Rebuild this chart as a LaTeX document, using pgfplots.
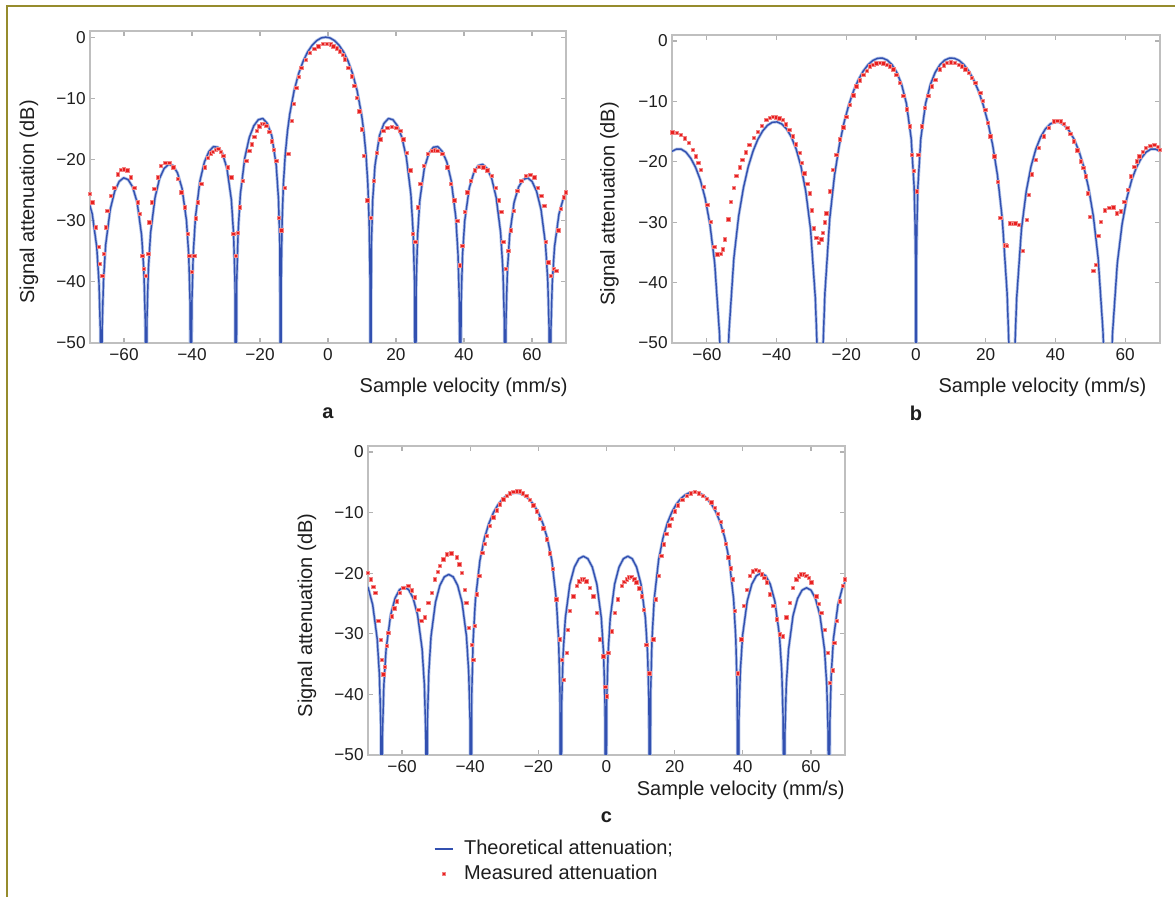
\documentclass[border=0pt]{standalone}
\usepackage{fontspec}
\setmainfont{Liberation Sans}
\usepackage{pgfplots}
\usepackage{pgfplotstable}
\pgfplotsset{compat=1.18}

\definecolor{thblue}{RGB}{50,80,176}
\definecolor{thhalo}{RGB}{176,194,232}
\definecolor{mered}{RGB}{232,32,32}
\definecolor{mehalo}{RGB}{242,130,130}
\definecolor{framecol}{RGB}{150,140,45}
\definecolor{txt}{RGB}{30,30,30}

% ---- panel a: theory and measured
\pgfplotstableread{
x y
-70.66 -26.3
-69.34 -28.9
-68.02 -34.3
-67.36 -40.1
-66.96 -48.0
-66.70 -80
-66.44 -47.9
-66.04 -39.9
-65.38 -33.9
-64.06 -28.2
-62.74 -25.2
-61.42 -23.6
-60.10 -23.0
-58.78 -23.3
-57.46 -24.5
-56.14 -27.0
-54.82 -32.4
-54.16 -38.2
-53.76 -46.1
-53.50 -80
-53.24 -46.0
-52.84 -38.0
-52.18 -32.0
-50.86 -26.2
-49.54 -23.1
-48.22 -21.5
-46.90 -20.8
-45.58 -21.0
-44.26 -22.2
-42.94 -24.7
-41.62 -30.0
-40.96 -35.7
-40.56 -43.6
-40.30 -80
-40.04 -43.5
-39.64 -35.5
-38.98 -29.4
-37.66 -23.5
-36.34 -20.4
-35.02 -18.7
-33.70 -17.9
-32.38 -18.0
-31.06 -19.0
-29.74 -21.4
-28.42 -26.6
-27.76 -32.3
-27.36 -40.1
-27.10 -80
-26.84 -39.9
-26.44 -31.9
-25.78 -25.7
-24.46 -19.7
-23.14 -16.4
-21.82 -14.5
-20.50 -13.5
-19.18 -13.3
-17.86 -14.1
-16.54 -16.1
-15.22 -21.0
-14.56 -26.5
-14.16 -34.2
-13.90 -80
-13.77 -39.9
-13.50 -30.2
-13.11 -23.95
-12.58 -19.23
-11.92 -15.39
-11.26 -12.62
-9.94 -8.69
-8.62 -5.94
-7.30 -3.92
-5.98 -2.42
-4.66 -1.33
-3.34 -0.58
-2.02 -0.14
-0.70 0
0.62 -0.14
1.94 -0.58
3.26 -1.33
4.58 -2.42
5.90 -3.92
7.22 -5.94
8.54 -8.69
9.86 -12.62
10.52 -15.39
11.18 -19.23
11.71 -23.95
12.10 -30.2
12.37 -39.9
12.50 -80
12.76 -34.2
13.16 -26.5
13.82 -21.0
15.14 -16.1
16.46 -14.1
17.78 -13.3
19.10 -13.5
20.42 -14.5
21.74 -16.4
23.06 -19.7
24.38 -25.7
25.04 -31.9
25.44 -39.9
25.70 -80
25.96 -40.1
26.36 -32.3
27.02 -26.6
28.34 -21.4
29.66 -19.0
30.98 -18.0
32.30 -17.9
33.62 -18.7
34.94 -20.4
36.26 -23.5
37.58 -29.4
38.24 -35.5
38.64 -43.5
38.90 -80
39.16 -43.6
39.56 -35.7
40.22 -30.0
41.54 -24.7
42.86 -22.2
44.18 -21.0
45.50 -20.8
46.82 -21.5
48.14 -23.1
49.46 -26.2
50.78 -32.0
51.44 -38.0
51.84 -46.0
52.10 -80
52.36 -46.1
52.76 -38.2
53.42 -32.4
54.74 -27.0
56.06 -24.5
57.38 -23.3
58.70 -23.0
60.02 -23.6
61.34 -25.2
62.66 -28.2
63.98 -33.9
64.64 -39.9
65.04 -47.9
65.30 -80
65.56 -48.0
65.96 -40.1
66.62 -34.3
67.94 -28.9
69.26 -26.3
70.58 -25.0
}\thA

\pgfplotstableread{
x y
-70.0 -25.6
-69.3 -27.0
-68.3 -31.1
-67.5 -34.3
-67.1 -37.1
-66.4 -39.0
-65.9 -35.4
-65.4 -31.1
-64.9 -28.4
-63.9 -25.9
-62.9 -24.6
-61.9 -22.4
-60.9 -21.7
-60.0 -21.6
-59.0 -21.8
-58.0 -22.9
-57.0 -24.6
-56.0 -27.0
-55.3 -28.9
-54.6 -35.7
-54.1 -37.9
-53.6 -39.0
-52.9 -35.4
-52.6 -30.3
-51.8 -27.0
-51.1 -24.8
-50.1 -22.9
-49.1 -21.0
-47.9 -20.5
-46.7 -20.5
-45.5 -21.3
-44.2 -23.2
-43.2 -25.4
-42.2 -27.8
-41.3 -32.2
-40.8 -35.7
-40.1 -38.4
-39.3 -35.7
-38.8 -29.6
-38.3 -27.0
-37.3 -24.0
-36.3 -21.3
-35.3 -19.7
-34.5 -19.0
-33.8 -18.7
-33.0 -18.4
-32.3 -18.3
-31.5 -18.7
-30.8 -19.4
-29.4 -21.3
-28.4 -22.9
-27.8 -32.2
-27.2 -35.7
-26.5 -32.0
-26.0 -27.8
-25.0 -23.5
-24.0 -20.2
-23.2 -18.6
-22.5 -17.5
-21.7 -16.3
-21.0 -15.3
-20.2 -14.6
-19.5 -14.2
-18.8 -14.2
-18.1 -14.5
-17.3 -15.5
-16.6 -17.0
-15.9 -18.4
-15.2 -20.2
-14.4 -29.5
-13.7 -31.6
-12.7 -24.6
-11.7 -19.1
-10.7 -13.7
-10.0 -10.9
-9.3 -8.3
-8.6 -6.5
-7.8 -5.0
-6.6 -3.7
-5.3 -2.6
-4.0 -1.9
-2.9 -1.5
-1.6 -1.1
-0.4 -1.1
0.8 -1.2
1.6 -1.5
2.6 -1.8
3.5 -2.3
4.3 -2.9
5.0 -3.6
6.0 -5.0
7.0 -6.4
7.7 -8.0
8.5 -9.9
9.2 -12.1
10.0 -15.1
10.6 -19.4
11.6 -26.7
12.6 -29.5
13.4 -23.5
14.4 -18.9
15.4 -16.7
16.3 -15.3
17.5 -14.8
18.8 -14.7
20.1 -14.8
21.3 -15.3
22.2 -16.7
23.2 -18.9
24.2 -21.8
25.0 -32.2
25.7 -33.5
26.4 -27.8
27.2 -24.0
28.2 -21.0
29.4 -19.1
30.6 -18.6
31.4 -18.5
32.1 -18.6
33.6 -19.1
35.1 -21.3
36.2 -24.0
37.2 -26.7
38.0 -30.0
38.8 -37.3
39.5 -34.1
40.2 -28.6
41.0 -25.4
42.0 -23.5
43.1 -21.8
44.4 -21.2
45.7 -21.3
46.9 -21.8
48.1 -22.7
49.3 -24.6
50.3 -26.7
51.0 -28.6
51.6 -33.5
52.3 -37.9
53.0 -34.9
53.8 -31.6
54.6 -28.4
55.7 -25.1
56.9 -23.5
58.2 -22.7
59.5 -22.5
60.7 -22.9
61.7 -24.6
62.7 -25.9
63.6 -27.6
64.1 -33.5
64.8 -36.8
65.6 -39.0
66.4 -37.9
67.1 -38.2
67.7 -31.6
68.5 -28.1
69.3 -26.2
69.9 -25.4
}\meA

% ---- panel b
\pgfplotstableread{
x y
-70.13 -18.3
-68.75 -17.9
-67.38 -17.9
-66.00 -18.4
-64.63 -19.4
-63.25 -20.9
-61.88 -23.0
-60.50 -26.0
-59.13 -30.3
-57.75 -36.8
-56.38 -48.4
-55.83 -57.1
-55.00 -80
-54.18 -56.9
-53.63 -47.96
-52.25 -35.92
-50.88 -29.00
-49.50 -24.29
-48.13 -20.82
-46.75 -18.23
-45.38 -16.29
-44.00 -14.90
-42.63 -13.97
-41.25 -13.46
-39.88 -13.39
-38.50 -13.74
-37.13 -14.55
-35.75 -15.90
-34.38 -17.90
-33.00 -20.76
-31.63 -24.87
-30.25 -31.17
-28.88 -42.58
-28.33 -51.3
-27.50 -80
-26.68 -50.7
-26.13 -41.71
-24.75 -29.42
-23.38 -22.25
-22.00 -17.24
-20.63 -13.46
-19.25 -10.52
-17.88 -8.20
-16.50 -6.38
-15.13 -4.97
-13.75 -3.92
-12.38 -3.22
-11.00 -2.86
-9.63 -2.82
-8.25 -3.16
-6.88 -3.92
-5.50 -5.20
-4.13 -7.18
-2.75 -10.34
-1.38 -16.14
-0.55 -24.04
-0.28 -30.06
-0.14 -36.1
0.00 -80
0.14 -36.1
0.28 -30.06
0.55 -24.04
1.38 -16.14
2.75 -10.34
4.13 -7.18
5.50 -5.20
6.88 -3.92
8.25 -3.16
9.63 -2.82
11.00 -2.86
12.38 -3.22
13.75 -3.92
15.13 -4.97
16.50 -6.38
17.88 -8.20
19.25 -10.52
20.63 -13.46
22.00 -17.24
23.38 -22.25
24.75 -29.42
26.13 -41.71
26.68 -50.7
27.50 -80
28.33 -51.3
28.88 -42.58
30.25 -31.17
31.63 -24.87
33.00 -20.76
34.38 -17.90
35.75 -15.90
37.13 -14.55
38.50 -13.74
39.88 -13.39
41.25 -13.46
42.63 -13.97
44.00 -14.90
45.38 -16.29
46.75 -18.23
48.13 -20.82
49.50 -24.29
50.88 -29.00
52.25 -35.92
53.63 -47.96
54.18 -56.9
55.00 -80
55.83 -57.1
56.38 -48.4
57.75 -36.8
59.13 -30.3
60.50 -26.0
61.88 -23.0
63.25 -20.9
64.63 -19.4
66.00 -18.4
67.38 -17.9
68.75 -17.9
70.13 -18.3
}\thB

\pgfplotstableread{
x y
-69.9 -15.1
-68.7 -15.2
-67.5 -15.5
-66.3 -16.1
-65.1 -16.9
-64.1 -18.0
-63.2 -19.1
-62.5 -20.2
-61.8 -21.3
-60.8 -24.1
-59.9 -27.1
-58.9 -29.9
-57.9 -34.1
-57.0 -35.3
-56.0 -35.2
-55.4 -34.5
-54.8 -32.8
-53.9 -29.5
-53.1 -26.6
-52.3 -24.3
-51.5 -22.3
-50.6 -20.9
-49.8 -19.7
-48.8 -18.4
-47.8 -17.2
-46.6 -16.0
-45.4 -15.0
-44.2 -14.0
-43.0 -13.0
-42.0 -12.7
-41.1 -12.5
-40.2 -12.6
-39.2 -12.8
-38.2 -13.0
-37.3 -13.8
-36.3 -14.7
-35.4 -15.8
-34.4 -17.1
-33.4 -18.5
-32.7 -20.2
-32.0 -21.9
-31.2 -23.6
-30.5 -25.2
-29.9 -28.0
-29.3 -31.0
-28.6 -32.6
-27.9 -33.4
-27.2 -32.8
-26.7 -31.8
-26.2 -30.0
-25.7 -28.5
-24.8 -24.9
-23.8 -21.3
-22.9 -18.8
-21.9 -16.3
-20.9 -14.3
-20.0 -12.5
-19.0 -10.6
-18.0 -9.0
-17.1 -7.5
-16.1 -6.5
-15.1 -5.6
-14.2 -4.9
-13.3 -4.2
-12.3 -3.9
-11.4 -3.7
-10.4 -3.6
-9.4 -3.7
-8.4 -3.9
-7.5 -4.2
-6.5 -4.7
-5.6 -5.6
-4.6 -6.9
-3.7 -9.1
-2.7 -11.3
-1.7 -14.1
-1.2 -18.8
-0.6 -21.5
0.2 -24.9
0.7 -18.8
1.6 -14.1
2.6 -11.1
3.5 -9.1
4.5 -7.5
5.5 -6.4
6.9 -4.7
7.9 -4.0
8.8 -3.6
10.0 -3.5
11.2 -3.6
12.2 -3.9
13.2 -4.2
14.1 -4.7
15.1 -5.3
16.0 -6.1
17.0 -6.9
18.4 -8.6
19.2 -9.9
19.9 -11.4
20.6 -13.5
21.3 -15.8
22.5 -19.1
23.5 -23.3
24.2 -29.3
25.6 -33.8
26.0 -33.9
27.1 -30.2
27.8 -30.3
28.5 -30.2
29.5 -30.4
30.7 -34.7
31.7 -29.6
32.4 -25.5
33.3 -22.1
34.3 -19.7
35.3 -17.7
36.7 -15.8
38.1 -14.4
39.6 -13.3
40.5 -13.2
41.5 -13.3
42.4 -13.7
43.4 -14.4
44.3 -15.4
45.3 -16.6
46.3 -18.1
47.3 -19.9
48.0 -21.0
48.7 -22.4
49.2 -25.2
49.9 -29.1
50.9 -38.0
51.6 -37.1
52.3 -32.3
53.0 -29.9
54.2 -28.0
55.4 -27.6
56.6 -27.5
57.6 -28.5
58.8 -28.2
59.7 -26.6
60.7 -24.6
61.7 -22.4
62.6 -20.8
63.3 -19.9
64.1 -19.1
65.0 -18.3
66.0 -17.7
67.2 -17.3
68.4 -17.2
69.3 -17.5
70.0 -18.0
}\meB

% ---- panel c
\pgfplotstableread{
x y
-71.24 -21.04
-69.93 -22.44
-68.62 -25.22
-67.31 -30.8
-66.66 -36.7
-66.26 -44.6
-66.00 -80
-65.74 -46.3
-65.34 -38.4
-64.68 -32.5
-63.36 -26.9
-62.04 -24.1
-60.72 -22.7
-59.40 -22.3
-58.08 -22.7
-56.76 -24.1
-55.44 -26.9
-54.12 -32.5
-53.46 -38.4
-53.06 -46.3
-52.80 -80
-52.54 -44.2
-52.15 -36.3
-51.50 -30.4
-50.20 -24.8
-48.90 -22.0
-47.60 -20.6
-46.30 -20.2
-45.00 -20.6
-43.70 -22.0
-42.40 -24.8
-41.10 -30.4
-40.45 -36.3
-40.06 -44.2
-39.80 -80
-39.54 -39.8
-39.14 -31.0
-38.48 -24.4
-37.16 -17.9
-35.84 -14.25
-34.52 -11.78
-33.20 -10.01
-31.88 -8.72
-30.56 -7.80
-29.24 -7.18
-27.92 -6.82
-26.60 -6.70
-25.28 -6.82
-23.96 -7.18
-22.64 -7.80
-21.32 -8.72
-20.00 -10.01
-18.68 -11.78
-17.36 -14.25
-16.04 -17.9
-14.72 -24.4
-14.06 -31.0
-13.66 -39.8
-13.40 -80
-13.14 -41.2
-12.74 -33.3
-12.08 -27.4
-10.76 -21.8
-9.44 -19.0
-8.12 -17.6
-6.80 -17.2
-5.48 -17.6
-4.16 -19.0
-2.84 -21.8
-1.52 -27.4
-0.86 -33.3
-0.46 -41.2
-0.20 -80
0.06 -41.2
0.45 -33.3
1.09 -27.4
2.38 -21.8
3.67 -19.0
4.96 -17.6
6.25 -17.2
7.54 -17.6
8.83 -19.0
10.12 -21.8
11.41 -27.4
12.06 -33.3
12.44 -41.2
12.70 -80
12.96 -39.7
13.35 -30.9
14.00 -24.3
15.29 -17.8
16.59 -14.15
17.88 -11.68
19.18 -9.91
20.47 -8.62
21.77 -7.70
23.06 -7.08
24.36 -6.72
25.65 -6.60
26.95 -6.72
28.24 -7.08
29.54 -7.70
30.83 -8.62
32.13 -9.91
33.42 -11.68
34.72 -14.15
36.01 -17.8
37.31 -24.3
37.95 -30.9
38.34 -39.7
38.60 -80
38.87 -44.0
39.28 -36.1
39.95 -30.2
41.30 -24.6
42.65 -21.8
44.00 -20.4
45.35 -20.0
46.70 -20.4
48.05 -21.8
49.40 -24.6
50.75 -30.2
51.43 -36.1
51.83 -44.0
52.10 -80
52.36 -46.4
52.76 -38.5
53.42 -32.6
54.74 -27.0
56.06 -24.2
57.38 -22.8
58.70 -22.4
60.02 -22.8
61.34 -24.2
62.66 -27.0
63.98 -32.6
64.64 -38.5
65.04 -46.4
65.30 -80
65.56 -44.6
65.96 -36.7
66.61 -30.8
67.92 -25.2
69.23 -22.4
70.54 -21.0
}\thC

\pgfplotstableread{
x y
-70.0 -19.9
-69.2 -21.0
-68.5 -22.2
-67.9 -23.2
-67.0 -27.9
-66.3 -31.0
-66.0 -34.3
-65.5 -36.7
-65.0 -35.4
-64.5 -32.0
-64.0 -29.8
-63.0 -27.1
-62.3 -25.8
-61.6 -24.6
-60.6 -23.2
-59.6 -22.4
-58.2 -22.1
-57.2 -22.8
-56.2 -24.0
-55.2 -26.0
-54.3 -27.9
-53.3 -27.3
-52.3 -24.9
-51.3 -23.2
-50.4 -21.0
-49.6 -19.8
-48.9 -18.8
-47.9 -17.7
-46.9 -16.9
-45.5 -16.7
-44.0 -17.4
-43.2 -18.5
-42.5 -19.9
-41.6 -22.7
-41.1 -24.9
-40.4 -29.0
-39.6 -31.8
-39.1 -34.3
-38.6 -28.7
-38.1 -23.5
-37.3 -20.4
-36.4 -16.6
-35.8 -15.1
-35.2 -13.8
-34.2 -12.2
-33.2 -10.8
-32.2 -9.6
-31.3 -8.6
-30.3 -7.8
-29.3 -7.2
-28.4 -6.8
-27.4 -6.6
-26.4 -6.5
-25.4 -6.5
-24.5 -6.8
-23.5 -7.2
-22.5 -7.9
-21.5 -8.8
-20.5 -9.8
-19.6 -11.0
-18.6 -12.6
-17.6 -14.4
-16.7 -16.7
-15.8 -19.3
-14.7 -24.3
-13.7 -30.9
-13.2 -34.3
-12.5 -37.6
-11.7 -33.1
-11.3 -29.3
-10.8 -26.2
-9.8 -23.8
-8.8 -22.1
-8.0 -21.3
-7.3 -21.0
-6.6 -21.0
-5.9 -21.3
-4.9 -22.4
-3.9 -23.8
-2.9 -26.5
-2.0 -30.9
-1.0 -33.7
-0.3 -38.7
0.1 -40.3
0.5 -33.1
1.5 -29.6
2.4 -26.5
3.4 -24.3
4.4 -22.1
5.2 -21.4
5.9 -21.0
6.6 -20.7
7.3 -20.6
8.1 -21.0
8.8 -21.5
9.6 -22.5
10.3 -23.8
10.9 -26.0
11.7 -31.8
12.5 -36.5
13.7 -30.9
14.5 -24.3
15.4 -20.4
16.1 -17.1
16.8 -15.2
17.6 -13.5
18.4 -12.1
19.1 -11.0
20.0 -9.8
21.0 -8.8
22.2 -7.9
23.5 -7.2
24.7 -6.8
25.9 -6.6
27.1 -6.8
28.3 -7.2
29.5 -7.7
30.8 -8.3
31.7 -9.2
32.7 -10.2
33.5 -11.5
34.2 -13.0
35.0 -15.1
35.7 -17.4
36.4 -19.2
37.0 -21.0
37.6 -26.2
38.6 -36.5
39.6 -30.9
40.3 -25.4
41.1 -22.7
42.0 -20.4
42.9 -19.7
43.8 -19.4
44.7 -19.6
45.5 -20.2
46.3 -20.8
47.0 -21.5
47.9 -23.5
48.9 -25.4
49.9 -27.6
50.8 -30.1
51.8 -30.4
52.8 -27.3
53.8 -24.9
54.7 -22.4
55.7 -21.0
56.5 -20.5
57.2 -20.2
57.9 -20.2
58.6 -20.4
59.4 -20.8
60.1 -21.5
61.6 -23.8
62.3 -25.0
63.0 -26.5
64.0 -29.3
65.0 -33.1
65.5 -38.1
66.4 -36.0
66.9 -31.5
67.6 -27.9
68.4 -24.6
69.4 -22.1
70.0 -21.0
}\meC

\pgfplotsset{
  panel/.style={
    scale only axis,
    xmin=-70, xmax=70, ymin=-50, ymax=1,
    xtick={-60,-40,-20,0,20,40,60},
    xticklabels={−60,−40,−20,0,20,40,60},
    ytick={-50,-40,-30,-20,-10,0},
    yticklabels={−50,−40,−30,−20,−10,0},
    tick align=inside,
    tick pos=both,
    xticklabel pos=lower,
    yticklabel pos=left,
    major tick length=2.5pt,
    axis line style={draw=gray!50, line width=0.9pt},
    tick style={draw=gray!60, line width=0.6pt},
    ticklabel style={font=\fontsize{8.6}{10}\selectfont, text=txt},
    yticklabel style={inner sep=1pt, xshift=-1pt},
    xticklabel style={inner sep=1pt, yshift=-1.5pt},
    label style={font=\fontsize{10}{12}\selectfont, text=txt, inner sep=0pt},
    xlabel={Sample velocity (mm/s)},
    ylabel={Signal attenuation (dB)},
    ylabel style={at={(axis description cs:-0.128,0.452)}, anchor=center},
  },
  halo/.style={thhalo, line width=1.5pt, line join=round, forget plot},
  theory/.style={thblue, line width=0.7pt, line join=round},
  meas/.style={only marks, mark=square*, mark size=0.85pt,
    mark options={fill=mered, draw=mehalo, line width=0.3pt}},
  lineleg/.style={legend image code/.code={%
    \draw[thhalo, line width=1.4pt] (0pt,0pt) -- (9pt,0pt);
    \draw[##1] (0pt,0pt) -- (9pt,0pt);}},
  dotleg/.style={legend image code/.code={%
    \draw[##1] plot coordinates {(4.5pt,0pt)};}},
}

\begin{document}
\begin{tikzpicture}
\path[use as bounding box] (0pt,0pt) rectangle (587.5pt,-448.5pt);
\draw[framecol, line width=1pt] (3.5pt,-448.5pt) -- (3.5pt,-3pt) -- (587.5pt,-3pt);

% a
\begin{axis}[panel, at={(45pt,-171.5pt)}, anchor=south west,
  width=238pt, height=156pt,
  xlabel style={at={(axis description cs:1.004,-0.141)}, anchor=east},
  extra description/.code={\node[font=\fontsize{10}{12}\selectfont\bfseries, text=txt] at (0.5,-0.224) {a};}]
  \addplot[halo] table {\thA};
  \addplot[theory] table {\thA};
  \addplot[meas] table {\meA};
\end{axis}

% b
\begin{axis}[panel, at={(336pt,-171.5pt)}, anchor=south west,
  width=244pt, height=154pt,
  xlabel style={at={(axis description cs:0.973,-0.143)}, anchor=east},
  extra description/.code={\node[font=\fontsize{10}{12}\selectfont\bfseries, text=txt] at (0.5,-0.227) {b};}]
  \addplot[halo] table {\thB};
  \addplot[theory] table {\thB};
  \addplot[meas] table {\meB};
\end{axis}

% c
\begin{axis}[panel, at={(184pt,-377.5pt)}, anchor=south west,
  width=238.5pt, height=154.5pt,
  xlabel style={at={(axis description cs:1,-0.113)}, anchor=east},
  extra description/.code={\node[font=\fontsize{10}{12}\selectfont\bfseries, text=txt] at (0.5,-0.2) {c};},
  legend style={at={(axis description cs:0.136,-0.266)}, anchor=north west,
    draw=none, fill=none, inner xsep=0pt, inner ysep=0pt,
    font=\fontsize{10}{12}\selectfont, text=txt, row sep=1pt,
    nodes={inner sep=1pt, text height=7.5pt, text depth=2pt},
    /tikz/every odd column/.append style={column sep=4pt}},
  legend cell align=left]
  \addplot[halo] table {\thC};
  \addplot[theory, lineleg] table {\thC};
  \addlegendentry{Theoretical attenuation;}
  \addplot[meas, dotleg] table {\meC};
  \addlegendentry{Measured attenuation}
\end{axis}
\end{tikzpicture}
\end{document}
